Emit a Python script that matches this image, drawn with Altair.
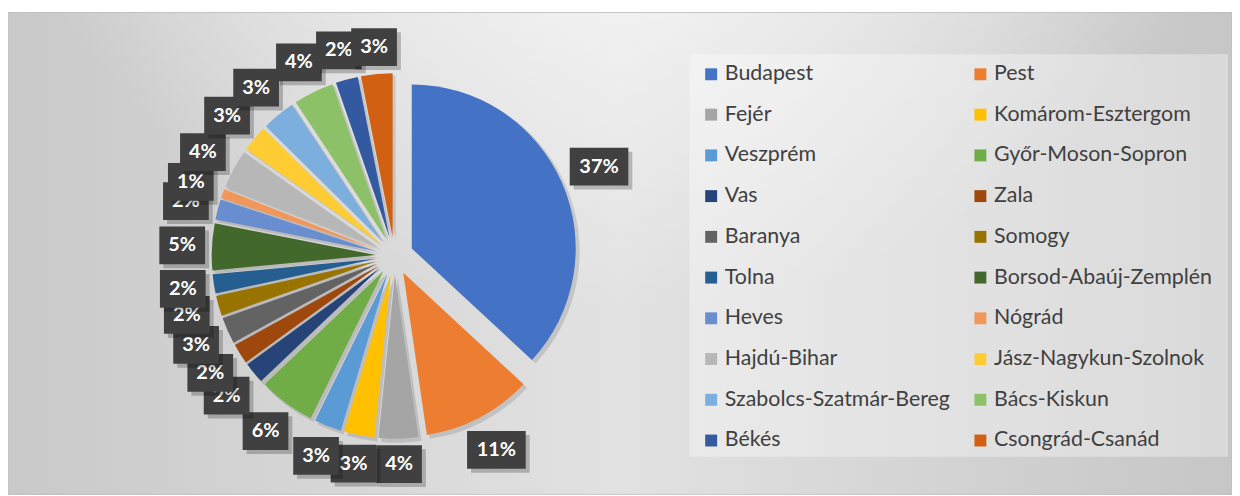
import altair as alt
import pandas as pd

counties = [
    "Budapest", "Pest", "Fejér", "Komárom-Esztergom", "Veszprém",
    "Győr-Moson-Sopron", "Vas", "Zala", "Baranya", "Somogy",
    "Tolna", "Borsod-Abaúj-Zemplén", "Heves", "Nógrád", "Hajdú-Bihar",
    "Jász-Nagykun-Szolnok", "Szabolcs-Szatmár-Bereg", "Bács-Kiskun", "Békés", "Csongrád-Csanád",
]
shares = [36.9, 10.8, 3.9, 3.0, 2.7, 5.6, 2.1, 2.0, 2.6, 2.0,
          1.9, 4.6, 2.0, 0.9, 3.8, 2.6, 3.3, 4.0, 2.2, 3.1]
slice_colors = [
    "#4472C4", "#ED7D31", "#A5A5A5", "#FFC000", "#5B9BD5",
    "#70AD47", "#264478", "#9E480E", "#636363", "#997300",
    "#255E91", "#43682B", "#698ED0", "#F1975A", "#B7B7B7",
    "#FFCD33", "#7CAFDD", "#8CC168", "#335AA1", "#D26012",
]

# legend fills columns first, so order the domain to read row by row
legend_domain = counties[0::2] + counties[1::2]
legend_range = slice_colors[0::2] + slice_colors[1::2]

df = pd.DataFrame({"county": counties, "share": shares, "order": list(range(len(counties)))})

W, H = 1232, 488
CX, CY = 389, 248
R_PIE = 165
EXPLODE = 19
R_LABEL = 190
HH = 19
FONT = "Lato"

base = (
    alt.Chart(df)
    .transform_joinaggregate(total="sum(share)")
    .transform_window(cum="sum(share)", sort=[alt.SortField("order")], frame=[None, 0])
    .transform_calculate(a1="2*PI*datum.cum/datum.total")
    .transform_calculate(a0="2*PI*(datum.cum-datum.share)/datum.total")
    .transform_calculate(mid="(datum.a0+datum.a1)/2")
    .transform_calculate(pct="format(datum.share/datum.total, '.0%')")
    .transform_calculate(px=f"{CX}+{EXPLODE}*sin(datum.mid)")
    .transform_calculate(py=f"{CY}-{EXPLODE}*cos(datum.mid)")
    .transform_calculate(hw="10+6.5*length(datum.pct)")
    .transform_calculate(rl=f"{R_LABEL}+datum.hw*abs(sin(datum.mid))+{HH}*abs(cos(datum.mid))")
    .transform_calculate(lx=f"{CX}+datum.rl*sin(datum.mid)")
    .transform_calculate(ly=f"{CY}-datum.rl*cos(datum.mid)")
    .transform_calculate(bx0="datum.lx-datum.hw")
    .transform_calculate(bx1="datum.lx+datum.hw")
    .transform_calculate(by0=f"datum.ly-{HH}")
    .transform_calculate(by1=f"datum.ly+{HH}")
)

single = alt.Chart(df).transform_aggregate(n="count()")

bg = single.mark_rect(
    color={
        "gradient": "linear", "x1": 0, "y1": 0, "x2": 1, "y2": 0,
        "stops": [
            {"offset": 0, "color": "#c9c9c9"},
            {"offset": 0.5, "color": "#e2e2e2"},
            {"offset": 1, "color": "#c6c6c6"},
        ],
    },
    stroke="#bdbdbd", strokeWidth=1,
).encode(x=alt.value(0), x2=alt.value(W), y=alt.value(3), y2=alt.value(H))

glow = single.mark_rect(
    color={
        "gradient": "radial", "x1": 0.5, "y1": 0.0, "x2": 0.5, "y2": 0.0, "r1": 0, "r2": 0.55,
        "stops": [
            {"offset": 0, "color": "rgba(255,255,255,1)"},
            {"offset": 0.35, "color": "rgba(255,255,255,0.75)"},
            {"offset": 1, "color": "rgba(255,255,255,0)"},
        ],
    },
).encode(x=alt.value(0), x2=alt.value(W), y=alt.value(3), y2=alt.value(H))

legend_box = single.mark_rect(color="white", opacity=0.35).encode(
    x=alt.value(686), x2=alt.value(1228), y=alt.value(45), y2=alt.value(450)
)

pie_shadow = base.mark_arc(outerRadius=R_PIE + 1, xOffset=3, yOffset=3, color="#000000", opacity=0.12).encode(
    theta=alt.Theta("a0:Q", scale=None),
    theta2="a1:Q",
    x=alt.X("px:Q", scale=None, axis=None),
    y=alt.Y("py:Q", scale=None, axis=None),
)

pie = base.mark_arc(outerRadius=R_PIE).encode(
    theta=alt.Theta("a0:Q", scale=None),
    theta2="a1:Q",
    x=alt.X("px:Q", scale=None, axis=None),
    y=alt.Y("py:Q", scale=None, axis=None),
    color=alt.Color(
        "county:N",
        scale=alt.Scale(domain=legend_domain, range=legend_range),
        legend=alt.Legend(
            orient="none", legendX=697, legendY=54, columns=2, title=None,
            symbolType="square", symbolSize=144, symbolStrokeWidth=0,
            labelFont=FONT, labelFontSize=21.5, labelColor="#404040",
            labelOffset=3, rowPadding=18, columnPadding=19, padding=0, labelLimit=400,
        ),
    ),
)

label_layers = []
for name in counties:
    b = base.transform_filter(alt.datum.county == name)
    shadow = b.mark_rect(color="#000000", opacity=0.22, xOffset=4, x2Offset=4, yOffset=4, y2Offset=4).encode(
        x=alt.X("bx0:Q", scale=None, axis=None), x2="bx1:Q",
        y=alt.Y("by0:Q", scale=None, axis=None), y2="by1:Q",
    )
    box = b.mark_rect(color="#404040").encode(
        x=alt.X("bx0:Q", scale=None, axis=None), x2="bx1:Q",
        y=alt.Y("by0:Q", scale=None, axis=None), y2="by1:Q",
    )
    txt = b.mark_text(font=FONT, fontWeight="bold", fontSize=20, color="white",
                      align="center", baseline="middle").encode(
        x=alt.X("lx:Q", scale=None, axis=None),
        y=alt.Y("ly:Q", scale=None, axis=None),
        text="pct:N",
    )
    label_layers += [shadow, box, txt]

chart = alt.layer(bg, glow, legend_box, pie_shadow, pie, *label_layers).properties(
    width=W, height=H, padding=0, autosize=alt.AutoSizeParams(type="none"), background="white"
).configure_view(stroke=None)

chart.save("out.html", embed_options={"renderer": "svg", "actions": False})
